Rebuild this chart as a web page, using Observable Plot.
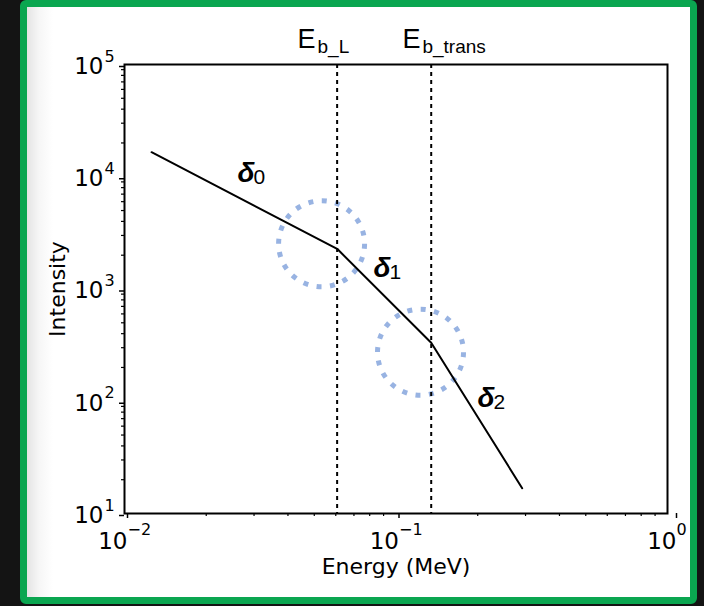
<!DOCTYPE html>
<html><head><meta charset="utf-8">
<script src="https://cdn.jsdelivr.net/npm/d3@7"></script>
<script src="https://cdn.jsdelivr.net/npm/@observablehq/plot@0.6"></script>
<style>
html,body{margin:0;padding:0;width:704px;height:606px;overflow:hidden;background:#141414;}
#frame{position:absolute;left:20px;top:0;width:677px;height:604px;box-sizing:border-box;border:7px solid #0aa650;border-radius:6px;background:linear-gradient(to right,#e4e4e4 0px,#f6f6f6 12px,#ffffff 26px);}
#chart{position:absolute;left:0;top:0;}
</style></head><body>
<div id="frame"></div><div id="chart"></div>
<script>
// Spectrum (broken power law)
const energy = [0.01258, 0.0607, 0.1348, 0.2916];
const intensity = [16550, 2280, 332, 16.8];

// Break energies (dashed lines)
const breakEnergy = [0.0607, 0.1348];
const breakLabelMain = ["E", "E"];
const breakLabelSub = ["b_L", "b_trans"];
const breakLabelEnergy = [0.04337, 0.1056];
const breakLabelIntensity = [141700, 141700];

// Highlight circles
const circleEnergy = [0.0532, 0.1231];
const circleIntensity = [2528, 273.5];

// Spectral index labels
const deltaSymbol = ["δ", "δ", "δ"];
const deltaSub = ["0", "1", "2"];
const deltaEnergy = [0.02607, 0.08264, 0.1994];
const deltaIntensity = [8941, 1274, 88.5];

// Axes
const xLabel = ["Energy (MeV)"];
const yLabel = ["Intensity"];
const xMajorNeg = [0.01, 0.1];
const xMajorZero = [1];
const xMinor = [0.02,0.03,0.04,0.05,0.06,0.07,0.08,0.09,0.2,0.3,0.4,0.5,0.6,0.7,0.8,0.9];
const yMajor = [10, 100, 1000, 10000, 100000];
const yMinor = [20,30,40,50,60,70,80,90,200,300,400,500,600,700,800,900,2000,3000,4000,5000,6000,7000,8000,9000,20000,30000,40000,50000,60000,70000,80000,90000];

const expo = d => { const e = Math.round(Math.log10(d)); return e < 0 ? "\u2212" + (-e) : String(e); };

const chart = Plot.plot({
  width: 704, height: 606,
  marginLeft: 124, marginRight: 37, marginTop: 64, marginBottom: 93,
  style: {background: "transparent", fontFamily: "'DejaVu Sans', sans-serif", overflow: "visible", color: "black"},
  x: {type: "log", domain: [0.01, 1]},
  y: {type: "log", domain: [10, 100000]},
  marks: [
    Plot.dot(circleEnergy, {x: circleEnergy, y: circleIntensity, r: 43, fill: "none", stroke: "#98b3e2", strokeWidth: 5, strokeDasharray: "5,8.5"}),
    Plot.ruleX(breakEnergy, {x: d => d, stroke: "black", strokeWidth: 2, strokeDasharray: "4,4"}),
    Plot.line(energy, {x: energy, y: intensity, stroke: "black", strokeWidth: 2}),
    Plot.frame({stroke: "black", strokeWidth: 2}),
    // y axis
    Plot.axisY(yMinor, {tickSize: 3, strokeWidth: 1.2, tickFormat: () => "", label: null}),
    Plot.axisY(yMajor, {tickSize: 5, strokeWidth: 1.5, tickPadding: 16, tickFormat: () => "10", fontSize: 23, dy: 2, label: null}),
    Plot.axisY(yMajor, {tickSize: 0, tickPadding: 20, textAnchor: "start", tickFormat: expo, fontSize: 16, dy: -8, label: null}),
    // x axis
    Plot.axisX(xMinor, {tickSize: 3, strokeWidth: 1.2, tickFormat: () => "", label: null}),
    Plot.axisX(xMajorNeg, {tickSize: 5, strokeWidth: 1.5, tickPadding: 14, tickFormat: () => "10", textAnchor: "end", dx: 3, fontSize: 23, label: null}),
    Plot.axisX(xMajorNeg, {tickSize: 0, tickPadding: 10, tickFormat: expo, textAnchor: "start", dx: 3, fontSize: 16, label: null}),
    Plot.axisX(xMajorZero, {tickSize: 5, strokeWidth: 1.5, tickPadding: 14, tickFormat: () => "10", textAnchor: "end", dx: 9, fontSize: 23, label: null}),
    Plot.axisX(xMajorZero, {tickSize: 0, tickPadding: 10, tickFormat: expo, textAnchor: "start", dx: 9, fontSize: 16, label: null}),
    // axis labels
    Plot.text(xLabel, {text: d => d, frameAnchor: "bottom", textAnchor: "middle", lineAnchor: "bottom", dy: 60, fontSize: 22}),
    Plot.text(yLabel, {text: d => d, frameAnchor: "left", textAnchor: "middle", lineAnchor: "middle", dx: -67, rotate: -90, fontSize: 22}),
    // break labels
    Plot.text(breakLabelMain, {text: d => d, x: breakLabelEnergy, y: breakLabelIntensity, textAnchor: "start", lineAnchor: "bottom", fontFamily: "'Liberation Sans', sans-serif", fontSize: 27}),
    Plot.text(breakLabelSub, {text: d => d, x: breakLabelEnergy, y: breakLabelIntensity, textAnchor: "start", lineAnchor: "bottom", dx: 20, dy: 5, fontFamily: "'Liberation Sans', sans-serif", fontSize: 19}),
    // delta labels
    Plot.text(deltaSymbol, {text: d => d, x: deltaEnergy, y: deltaIntensity, textAnchor: "start", lineAnchor: "bottom", fontFamily: "'Liberation Sans', sans-serif", fontWeight: "bold", fontStyle: "italic", fontSize: 28}),
    Plot.text(deltaSub, {text: d => d, x: deltaEnergy, y: deltaIntensity, textAnchor: "start", lineAnchor: "bottom", dx: 16, dy: 2, fontFamily: "'Liberation Sans', sans-serif", fontSize: 21})
  ]
});
document.getElementById("chart").appendChild(chart);
</script></body></html>
